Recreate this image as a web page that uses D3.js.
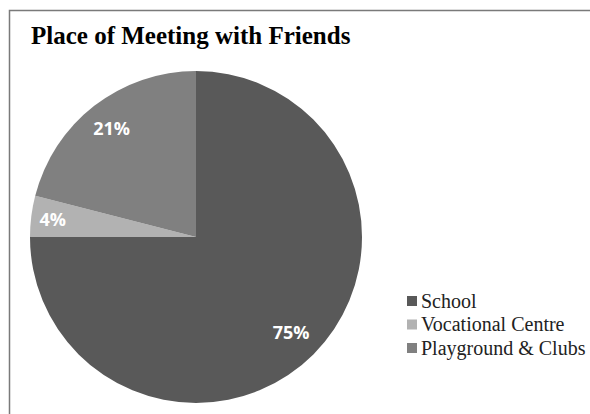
<!DOCTYPE html>
<html>
<head>
<meta charset="utf-8">
<script src="https://cdn.jsdelivr.net/npm/d3@7"></script>
<style>
  html, body { margin: 0; padding: 0; background: #fff; }
  svg { display: block; }
  .serif { font-family: 'Liberation Serif', 'Times New Roman', Times, serif; }
  .sans { font-family: 'Open Sans', 'Noto Sans', sans-serif; }
</style>
</head>
<body>
<svg id="chart" width="590" height="414"></svg>
<script>
// Share of respondents by usual meeting place
const categories = ["School", "Vocational Centre", "Playground & Clubs"];
const values = [75, 4, 21];
const labels = ["75%", "4%", "21%"];
const colors = ["#595959", "#b2b2b2", "#808080"];

const svg = d3.select("#chart");
const W = 590, H = 414;

// outer frame
svg.append("rect")
  .attr("x", 9.5).attr("y", 10.5)
  .attr("width", W + 10).attr("height", H + 10)
  .attr("fill", "#fff")
  .attr("stroke", "#7a7a7a")
  .attr("stroke-width", 1.5);

svg.append("text")
  .attr("class", "serif")
  .attr("x", 31).attr("y", 44)
  .attr("font-weight", "bold")
  .attr("font-size", 25)
  .attr("fill", "#000")
  .text("Place of Meeting with Friends");

const cx = 196, cy = 237, r = 166;

const pie = d3.pie().sort(null).value(d => d)(values);
const arc = d3.arc().innerRadius(0).outerRadius(r);

const g = svg.append("g").attr("transform", `translate(${cx},${cy})`);

g.selectAll("path.slice")
  .data(pie)
  .join("path")
  .attr("class", "slice")
  .attr("d", arc)
  .attr("fill", (d, i) => colors[i]);

// Percentage labels placed along each slice's mid-angle
const labelRadius = [0.81, 0.87, 0.83];
g.selectAll("text.pct")
  .data(pie)
  .join("text")
  .attr("class", "pct sans")
  .attr("transform", (d, i) => {
    const a = (d.startAngle + d.endAngle) / 2;
    const rr = r * labelRadius[i];
    return `translate(${Math.sin(a) * rr},${-Math.cos(a) * rr})`;
  })
  .attr("text-anchor", "middle")
  .attr("dominant-baseline", "central")
  .attr("font-weight", "bold")
  .attr("font-size", 18)
  .attr("fill", "#fff")
  .text((d, i) => labels[i]);

// Legend
const legend = svg.append("g").attr("transform", "translate(407,0)");
const rowY = d3.scalePoint().domain(categories).range([301, 348]);
const rows = legend.selectAll("g.row")
  .data(categories)
  .join("g")
  .attr("class", "row")
  .attr("transform", d => `translate(0,${rowY(d)})`);
rows.append("rect")
  .attr("x", 0).attr("y", -5)
  .attr("width", 10).attr("height", 10)
  .attr("fill", (d, i) => colors[i]);
rows.append("text")
  .attr("class", "serif")
  .attr("x", 14).attr("y", 6.5)
  .attr("font-size", 20)
  .attr("fill", "#222")
  .text(d => d);
</script>
</body>
</html>
